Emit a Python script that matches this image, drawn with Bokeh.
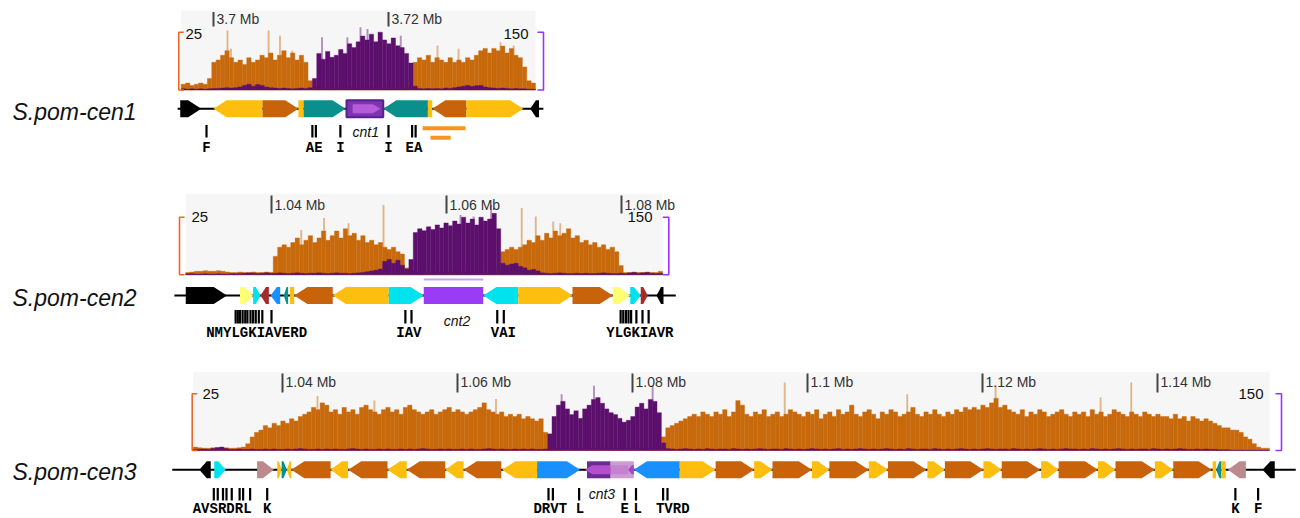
from bokeh.plotting import figure
from bokeh.models import Range1d
from bokeh.embed import file_html
from bokeh.resources import INLINE
from bokeh.core.properties import value

# ======================= DATA =======================
panel_names = ["S.pom-cen1", "S.pom-cen2", "S.pom-cen3"]
bin_kb = 0.5

# ---------------- cen1 ----------------
cen1_view_kb = [3696.3, 3736.8]
cen1_tick_kb = [3700, 3720]
cen1_tick_labels = ["3.7 Mb", "3.72 Mb"]
cen1_bin_start_kb = 3696.3
cen1_orange = [2.5, 3, 2, 2.5, 3, 2.5, 5, 12,
               13, 15, 17, 14, 12, 13, 11, 14, 12, 13, 15, 14, 16, 13, 15, 17, 14, 16, 13, 15, 12,
               4,
               1.5, 1, 1.5, 1, 1, 1.5, 1, 1, 1.5, 1, 1, 1.5, 1, 1, 1.5, 1, 1, 1.5, 1, 1, 1.5, 1, 2,
               12, 14, 13, 15, 12, 14, 13, 12, 14, 12, 13, 12, 14, 13, 15, 17, 18, 16, 18, 17, 19, 16,
               18, 15, 14, 10, 4, 3]
cen1_purple = [3, 2, 3, 2, 3, 2, 3, 4, 4, 5, 6, 5, 6, 8, 12, 15, 10, 14, 12, 8, 6, 5, 4, 5, 4, 3, 4, 5, 4, 6,
               30, 95, 80, 100, 85, 90, 105, 95, 120, 110, 125, 140, 130, 145, 125, 150, 130, 120, 135,
               115, 110, 95, 70, 10,
               4, 3, 4, 3, 4, 3, 5, 4, 6, 8, 10, 12, 9, 11, 12, 8, 6, 5, 4, 5, 4, 3, 4, 3, 3, 2, 2]
cen1_ospike_kb = [3701.6, 3702.0, 3706.3, 3707.6, 3709.0, 3725.6, 3728.0, 3732.8, 3734.3]
cen1_ospike_val = [25.7, 17.8, 25.7, 23.5, 17, 19.2, 17.8, 20.7, 19.2]
cen1_pspike_kb = [3712.4, 3715.3, 3716.8, 3717.6, 3721.4]
cen1_pspike_val = [137, 137, 163, 158, 141]
cen1_line_kb = [3695.9, 3737.7]
cen1_gene_start = [3696.2, 3700.0, 3705.6, 3709.7, 3710.3, 3719.4, 3724.5, 3725.0, 3728.9, 3736.2]
cen1_gene_end = [3698.6, 3705.6, 3709.7, 3710.3, 3715.1, 3724.5, 3725.0, 3728.9, 3735.4, 3737.2]
cen1_gene_strand = [1, -1, 1, 0, 1, -1, 0, -1, 1, -1]
cen1_gene_type = ["black", "gold", "brown", "gold", "teal", "teal", "gold", "brown", "gold", "black"]
cen1_cnt_kb = [3715.2, 3719.4]
cen1_cnt_inner_kb = [3715.9, 3719.1]
cen1_trna_kb = [3699.2, 3711.3, 3711.7, 3714.5, 3720.0, 3722.7, 3723.1]
cen1_trna_labels = ["F", "AE", "I", "I", "EA"]
cen1_trna_label_kb = [3699.2, 3711.5, 3714.5, 3720.0, 3722.9]
cen1_cnt_label = "cnt1"
cen1_cnt_label_kb = 3717.4
cen1_repeat_start = [3723.9, 3724.8]
cen1_repeat_end = [3728.8, 3727.1]

# ---------------- cen2 ----------------
cen2_view_kb = [1030.2, 1084.7]
cen2_tick_kb = [1040, 1060, 1080]
cen2_tick_labels = ["1.04 Mb", "1.06 Mb", "1.08 Mb"]
cen2_bin_start_kb = 1030.2
cen2_orange = [1, 1.2, 1.5, 1.5, 1.8, 1.5, 1.5, 1.8, 1.5, 1.2, 1, 1, 1.2, 1, 1, 1.2, 1, 1, 1.2, 1,
               8,
               12, 13, 12, 14, 16, 13, 15, 17, 14, 16, 19, 15, 17, 19, 16, 20, 17, 18, 15, 17, 14, 15,
               13, 14, 12, 11, 12, 10, 9,
               3, 2,
               1.5, 1, 1.5, 1, 1, 1.5, 1, 1, 1.5, 1, 1, 1.5, 1, 1, 1.5, 1, 1, 1.5, 1,
               3,
               10, 11, 12, 11, 12, 13, 15, 14, 17, 15, 18, 16, 19, 17, 18, 20, 16, 17, 14, 15, 13, 14,
               12, 13, 11, 12, 10,
               4,
               1, 1, 1.2, 1, 1, 1.2, 1, 1, 1.5]
cen2_purple = [3, 3, 2, 2, 3, 2, 2, 3, 2, 2, 3, 3, 3, 4, 5, 4, 3, 4, 5, 4,
               4, 5, 4, 3, 4, 5, 4, 3, 4, 4, 5, 4, 3, 4, 5, 4, 4, 3, 4, 5, 6, 8, 10, 12, 15,
               35, 40, 30, 38, 25, 15, 40,
               110, 120, 115, 125, 118, 130, 122, 135, 128, 140, 132, 150, 135, 145, 130, 150, 140,
               145, 160, 120,
               30, 25, 28, 30, 22, 18, 12, 14, 10,
               5, 4, 3, 4, 5, 4, 3, 3, 4, 3, 4, 3, 3, 4, 5, 4, 3, 3, 4, 3, 5, 6, 4, 5, 6, 4, 3, 4]
cen2_ospike_kb = [1043.4, 1046.0, 1048.8, 1052.8, 1068.6, 1070.2, 1072.2, 1073.0]
cen2_ospike_val = [19.4, 24.6, 22.4, 30.4, 29, 25.3, 23.1, 22.4]
cen2_pspike_kb = [1061.6, 1063.1, 1065.1]
cen2_pspike_val = [156, 152, 182]
cen2_line_kb = [1028.9, 1086.2]
cen2_gene_start = [1030.2, 1036.4, 1037.9, 1038.75, 1039.9, 1041.4, 1042.1, 1042.6, 1047.0, 1053.4,
                   1057.4, 1064.2, 1068.2, 1074.4, 1079.0, 1081.0, 1082.2, 1084.0]
cen2_gene_end = [1034.9, 1037.9, 1038.75, 1039.7, 1041.0, 1041.9, 1042.6, 1047.0, 1053.4, 1057.4,
                 1064.2, 1068.2, 1074.4, 1079.0, 1081.0, 1082.2, 1083.0, 1084.8]
cen2_gene_strand = [1, 1, 1, -1, -1, -1, 0, -1, -1, 1, 0, -1, 1, 1, 1, 1, 1, -1]
cen2_gene_type = ["black", "lightyellow", "cyan", "darkred", "blue", "teal", "gold", "brown", "gold",
                  "cyan", "cnt", "cyan", "gold", "brown", "lightyellow", "cyan", "darkred", "black"]
cen2_trna_kb = [1035.9, 1036.15, 1036.4, 1036.7, 1037.0, 1037.25, 1037.6, 1037.9, 1038.2, 1038.55,
                1038.95, 1040.0, 1055.3, 1056.0, 1065.8, 1066.55, 1079.9, 1080.2, 1080.5, 1080.8,
                1081.1, 1081.7, 1082.4, 1083.1]
cen2_trna_labels = ["NMYLGKIAVERD", "IAV", "VAI", "YLGKIAVR"]
cen2_trna_label_kb = [1038.3, 1055.7, 1066.5, 1082.1]
cen2_cnt_label = "cnt2"
cen2_cnt_label_kb = 1061.2
cen2_cenpa_line_kb = [1057.4, 1064.2]

# ---------------- cen3 ----------------
cen3_view_kb = [1029.8, 1152.8]
cen3_tick_kb = [1040, 1060, 1080, 1100, 1120, 1140]
cen3_tick_labels = ["1.04 Mb", "1.06 Mb", "1.08 Mb", "1.1 Mb", "1.12 Mb", "1.14 Mb"]
cen3_bin_start_kb = 1029.8
cen3_orange = [1.5, 1.2, 1, 1, 1.2, 1, 1, 1.2, 1, 1, 1.2, 1.5,
               3, 6, 8, 9, 11, 10, 12, 11, 13, 12, 14, 13, 15, 16,
               17, 19, 18, 21, 20, 17, 18, 16, 19, 17, 18, 16, 19, 20, 18, 17, 16, 18, 19, 17, 18, 16,
               19, 20, 18, 17, 16, 17, 18, 16, 17, 18, 19, 17, 18, 17, 16, 17, 18, 19, 21, 18, 17, 16,
               17, 15, 16, 15, 16, 14, 15, 14, 13, 14,
               8,
               1, 1.5, 1, 1, 1.5, 1, 1, 1, 1.5, 1, 1, 1, 1.5, 1, 1, 1, 1.5, 1, 1, 1, 1.5, 1, 1, 1, 1.5, 1,
               6, 10, 11, 12, 13, 14, 15, 16, 15,
               17, 16, 15, 17, 16, 18, 15, 17, 22, 20, 16, 15, 17, 16, 18, 15, 16, 17, 15, 16, 18, 17, 16,
               15, 17, 16, 18, 14, 16, 17, 15, 18, 16, 17, 20, 16, 15, 17, 18, 16, 14, 17, 16, 18, 17, 15,
               16, 17, 19, 16, 15, 17, 16, 18, 16, 15, 17, 16, 18, 17, 19, 18,
               19, 18, 20, 19, 21, 23, 19, 20, 18,
               17, 16, 18, 15, 17, 16, 18, 17, 15, 16, 17, 18, 16, 15, 17, 16, 17, 15, 18, 16, 17, 15, 16,
               18, 17, 16, 15, 17, 16, 15, 17, 16, 15, 16, 15,
               15, 14, 16, 14, 15, 13, 15, 14, 13, 14, 13, 12,
               11, 10, 10, 9, 9, 8, 6, 5, 3, 1.5, 1, 1]
cen3_purple = [3, 3, 4, 3, 5, 8, 9, 5, 3, 3, 4, 3,
               3, 4, 3, 3, 4, 3, 4, 3, 3, 4, 3, 4, 5, 4, 3, 3, 4, 3, 4, 3, 4, 3, 3, 4, 5, 4, 3, 4, 3, 3,
               4, 3, 4, 3, 3, 4, 3, 4, 3, 4, 5, 4, 3, 3, 4, 3, 4, 3, 3, 4, 3, 4, 3, 3, 4, 5, 4, 3, 4, 3,
               3, 4, 3, 4, 3, 4, 3, 3, 4,
               44, 90, 120, 130, 110, 95, 105, 85, 110, 120, 135, 140, 125, 110, 100, 95, 85, 75, 80, 90,
               115, 125, 110, 135, 130, 100, 20, 5,
               4, 3, 4, 5, 4, 3, 4, 3, 5, 4, 3, 4, 4, 3, 5, 4, 3, 4, 3, 4, 5, 4, 3, 4, 4, 3, 5, 4, 3, 4,
               3, 4, 5, 4, 3, 4, 3, 4, 5, 3, 4, 3, 4, 5, 4, 3, 4, 3, 4, 5, 4, 3, 4, 3, 5, 4, 3, 4, 4, 3,
               5, 4, 3, 4, 3, 4, 5, 4, 3, 4, 3, 4, 5, 4, 3, 4, 4, 3, 5, 4, 3, 4, 3, 4, 5, 4, 3, 4, 3, 4,
               5, 4, 4, 3, 4, 3, 5, 4, 3, 4, 3, 4, 5, 4, 3, 4, 3, 4, 4, 3, 5, 4, 3, 4, 3, 4, 5, 4, 3, 3,
               4, 3, 4, 3, 3, 2, 2, 2, 1, 1, 1, 1, 1, 1, 1, 1, 1]
cen3_ospike_kb = [1044.0, 1050.5, 1064.4, 1097.4, 1111.4, 1121.5, 1133.5, 1137.0]
cen3_ospike_val = [24, 22, 22.7, 30, 24.8, 28.5, 23.4, 30]
cen3_pspike_kb = [1071.9, 1075.6, 1082.3]
cen3_pspike_val = [149, 171, 171]
cen3_line_kb = [1027.4, 1155.8]
cen3_gene_start = [1030.5, 1032.2, 1037.1, 1039.4, 1039.9, 1040.5, 1041.0, 1045.5, 1047.5, 1052.0,
                   1054.2, 1058.6, 1060.7, 1065.1, 1069.1, 1080.15, 1085.4, 1089.5, 1093.9, 1096.0,
                   1100.5, 1102.5, 1107.0, 1109.2, 1113.7, 1115.7, 1120.1, 1122.2, 1126.7, 1128.7,
                   1133.2, 1135.2, 1139.7, 1141.8, 1146.3, 1146.7, 1147.3, 1148.05, 1152.0]
cen3_gene_end = [1031.8, 1033.5, 1039.0, 1039.9, 1040.5, 1041.0, 1045.5, 1047.5, 1052.0, 1054.2,
                 1058.6, 1060.7, 1065.0, 1069.1, 1074.0, 1085.4, 1089.5, 1093.9, 1096.0, 1100.5,
                 1102.5, 1107.0, 1109.2, 1113.6, 1115.7, 1120.1, 1122.2, 1126.6, 1128.7, 1133.2,
                 1135.2, 1139.7, 1141.8, 1146.2, 1146.7, 1147.3, 1147.8, 1150.1, 1153.4]
cen3_gene_strand = [-1, 1, 1, 1, 1, -1, -1, -1, -1, -1, -1, -1, -1, -1, 1, -1, 1, 1, 1, 1,
                    1, 1, 1, 1, 1, 1, 1, 1, 1, 1, 1, 1, 1, 1, 0, -1, 0, -1, -1]
cen3_gene_type = ["black", "cyan", "mauve", "gold", "teal", "gold", "brown", "gold", "brown", "gold",
                  "brown", "gold", "brown", "gold", "blue", "blue", "gold", "brown", "gold", "brown",
                  "gold", "brown", "gold", "brown", "gold", "brown", "gold", "brown", "gold", "brown",
                  "gold", "brown", "gold", "brown", "gold", "teal", "gold", "mauve", "black"]
cen3_cnt_dark_kb = [1074.8, 1077.5]
cen3_cnt_light_kb = [1077.5, 1080.15]
cen3_cnt_inner_kb = [1074.6, 1077.5]
cen3_cnt_inner2_kb = [1077.5, 1079.5]
cen3_cnt_tip_kb = [1079.5, 1080.15]
cen3_trna_kb = [1032.15, 1032.6, 1033.2, 1033.6, 1034.2, 1035.1, 1035.5, 1036.3, 1038.25, 1070.4,
                1070.9, 1073.9, 1079.1, 1080.4, 1083.5, 1084.0, 1148.9, 1151.5]
cen3_trna_labels = ["AVSRDRL", "K", "DRVT", "L", "E", "L", "TVRD", "K", "F"]
cen3_trna_label_kb = [1033.1, 1038.25, 1070.6, 1074.0, 1079.1, 1080.6, 1084.6, 1148.9, 1151.5]
cen3_cnt_label = "cnt3"
cen3_cnt_label_kb = 1076.5

scale_orange = 25
scale_purple = 150

# ======================= STYLE / LAYOUT =======================
W, H = 1300, 518
X0, Y0 = 0, 0
PX_PER_KB = 8.75
GENE_H = 17
INNER_H = 9
HEAD_KB = 1.5

C_ORANGE = "#c8690c"
C_PURPLE = "#5c0f6c"
C_BOX = "#f6f6f6"
GENE_COLORS = {"black": "#000000", "gold": "#fdbe10", "brown": "#c8620b", "teal": "#0b8f8c",
               "cyan": "#00e3ee", "blue": "#1a90ff", "lightyellow": "#ffff72", "darkred": "#a32b2b",
               "mauve": "#bc8a8c", "cnt": "#9a3cf6"}

LAY = [
    dict(ref_kb=3700, ref_px=213, box_top=10, base=89.5, brk_top=31.7, row=108.3, tr0=124.5, tr1=137,
         let_y=147.5, cnt_y=131.5, name_y=111, tk0=11.5, tk1=26, tky=18.3, lb_x=178.3, rb_x=543,
         n25_x=185, n150_x=528, num_y=33),
    dict(ref_kb=1040, ref_px=271, box_top=193.3, base=274.3, brk_top=216.7, row=295, tr0=309.5, tr1=323,
         let_y=332, cnt_y=320, name_y=297, tk0=195, tk1=213, tky=204, lb_x=179, rb_x=668.3,
         n25_x=191, n150_x=652, num_y=216),
    dict(ref_kb=1040, ref_px=282, box_top=371.7, base=450, brk_top=393.3, row=469.3, tr0=487.5, tr1=500,
         let_y=508.3, cnt_y=493.3, name_y=471.5, tk0=373, tk1=392, tky=381.7, lb_x=191.7, rb_x=1281,
         n25_x=202, n150_x=1263, num_y=393),
]

PANELS = [
    dict(view=cen1_view_kb, ticks=cen1_tick_kb, tick_labels=cen1_tick_labels, bin0=cen1_bin_start_kb,
         orange=cen1_orange, purple=cen1_purple, osk=cen1_ospike_kb, osv=cen1_ospike_val,
         psk=cen1_pspike_kb, psv=cen1_pspike_val, line=cen1_line_kb, gs=cen1_gene_start,
         ge=cen1_gene_end, gst=cen1_gene_strand, gt=cen1_gene_type, trna=cen1_trna_kb,
         tl=cen1_trna_labels, tlk=cen1_trna_label_kb, cl=cen1_cnt_label, clk=cen1_cnt_label_kb),
    dict(view=cen2_view_kb, ticks=cen2_tick_kb, tick_labels=cen2_tick_labels, bin0=cen2_bin_start_kb,
         orange=cen2_orange, purple=cen2_purple, osk=cen2_ospike_kb, osv=cen2_ospike_val,
         psk=cen2_pspike_kb, psv=cen2_pspike_val, line=cen2_line_kb, gs=cen2_gene_start,
         ge=cen2_gene_end, gst=cen2_gene_strand, gt=cen2_gene_type, trna=cen2_trna_kb,
         tl=cen2_trna_labels, tlk=cen2_trna_label_kb, cl=cen2_cnt_label, clk=cen2_cnt_label_kb),
    dict(view=cen3_view_kb, ticks=cen3_tick_kb, tick_labels=cen3_tick_labels, bin0=cen3_bin_start_kb,
         orange=cen3_orange, purple=cen3_purple, osk=cen3_ospike_kb, osv=cen3_ospike_val,
         psk=cen3_pspike_kb, psv=cen3_pspike_val, line=cen3_line_kb, gs=cen3_gene_start,
         ge=cen3_gene_end, gst=cen3_gene_strand, gt=cen3_gene_type, trna=cen3_trna_kb,
         tl=cen3_trna_labels, tlk=cen3_trna_label_kb, cl=cen3_cnt_label, clk=cen3_cnt_label_kb),
]


def kb_range(ref_kb, ref_px):
    start = ref_kb - (ref_px - X0) / PX_PER_KB
    return Range1d(start, start + W / PX_PER_KB)


def cov_range(full, base_px, top_px):
    upp = full / (base_px - top_px)
    return Range1d(-(Y0 + H - base_px) * upp, (base_px - Y0) * upp)


def arrow(s, e, strand, y, h, head):
    hd = min(head, (e - s) * 0.65)
    t, b = y - h / 2, y + h / 2
    if strand == 1:
        return [s, e - hd, e, e - hd, s], [t, t, y, b, b]
    if strand == -1:
        return [e, s + hd, s, s + hd, e], [t, t, y, b, b]
    return [s, e, e, s], [t, t, b, b]


p = figure(width=W, height=H, x_range=Range1d(X0, X0 + W), y_range=Range1d(Y0 + H, Y0),
           output_backend="svg", toolbar_location=None, x_axis_type=None, y_axis_type=None,
           min_border=0, outline_line_color=None)
p.grid.visible = False
p.background_fill_color = "white"
p.border_fill_color = "white"

for k, (lay, pan) in enumerate(zip(LAY, PANELS)):
    xn, on, vn = "x%d" % k, "o%d" % k, "v%d" % k
    p.extra_x_ranges[xn] = kb_range(lay["ref_kb"], lay["ref_px"])
    p.extra_y_ranges[on] = cov_range(scale_orange, lay["base"], lay["brk_top"])
    p.extra_y_ranges[vn] = cov_range(scale_purple, lay["base"], lay["brk_top"])

    # background box
    p.quad(left=[pan["view"][0]], right=[pan["view"][1]], top=[lay["box_top"]], bottom=[lay["base"]],
           fill_color=C_BOX, line_color=None, x_range_name=xn)

    # coverage
    ox = [pan["bin0"] + bin_kb * (i + 0.5) for i in range(len(pan["orange"]))]
    vx = [pan["bin0"] + bin_kb * (i + 0.5) for i in range(len(pan["purple"]))]
    p.vbar(x=pan["osk"], top=pan["osv"], bottom=0, width=0.22, fill_color=C_ORANGE, fill_alpha=0.45,
           line_color=None, x_range_name=xn, y_range_name=on)
    p.vbar(x=ox, top=pan["orange"], bottom=0, width=bin_kb, fill_color=C_ORANGE, line_color=C_ORANGE,
           line_width=0.4, x_range_name=xn, y_range_name=on)
    p.vbar(x=pan["psk"], top=pan["psv"], bottom=0, width=0.22, fill_color="#8a4a9c", fill_alpha=0.6,
           line_color=None, x_range_name=xn, y_range_name=vn)
    p.vbar(x=vx, top=pan["purple"], bottom=0, width=bin_kb, fill_color=C_PURPLE, line_color=C_PURPLE,
           line_width=0.4, x_range_name=xn, y_range_name=vn)

    # scale brackets
    lx, rx = lay["lb_x"], lay["rb_x"]
    p.multi_line(xs=[[lx + 5, lx, lx, lx + 5]], ys=[[scale_orange, scale_orange, 0, 0]],
                 line_color="#f26522", line_width=1.6, y_range_name=on)
    p.multi_line(xs=[[rx - 6, rx, rx, rx - 6]], ys=[[scale_purple, scale_purple, 0, 0]],
                 line_color="#9b30ff", line_width=1.6, y_range_name=vn)
    p.text(x=[lay["n25_x"]], y=[lay["num_y"]], text=[str(scale_orange)], text_align="left",
           text_baseline="middle", text_font=value("Liberation Sans"), text_font_size="15px",
           text_color="#111111")
    p.text(x=[lay["n150_x"]], y=[lay["num_y"]], text=[str(scale_purple)], text_align="right",
           text_baseline="middle", text_font=value("Liberation Sans"), text_font_size="15px",
           text_color="#111111")

    # genomic ticks
    p.segment(x0=pan["ticks"], x1=pan["ticks"], y0=lay["tk0"], y1=lay["tk1"], line_color="#444444",
              line_width=2, x_range_name=xn)
    p.text(x=pan["ticks"], y=lay["tky"], text=pan["tick_labels"], x_offset=3, text_align="left",
           text_baseline="middle", text_font=value("Liberation Sans"), text_font_size="14px",
           text_color="#333333", x_range_name=xn)

    # gene track
    row = lay["row"]
    p.segment(x0=[pan["line"][0]], x1=[pan["line"][1]], y0=row, y1=row, line_color="black",
              line_width=2, x_range_name=xn)
    gxs, gys, gcs = [], [], []
    for s, e, st, t in zip(pan["gs"], pan["ge"], pan["gst"], pan["gt"]):
        xs, ys = arrow(s, e, st, row, GENE_H, HEAD_KB)
        gxs.append(xs)
        gys.append(ys)
        gcs.append(GENE_COLORS[t])
    p.patches(xs=gxs, ys=gys, fill_color=gcs, line_color=None, x_range_name=xn)

    # tRNA ticks and letters
    p.segment(x0=pan["trna"], x1=pan["trna"], y0=lay["tr0"], y1=lay["tr1"], line_color="black",
              line_width=2.2, x_range_name=xn)
    p.text(x=pan["tlk"], y=lay["let_y"], text=pan["tl"], text_align="center", text_baseline="middle",
           text_font=value("Liberation Mono"), text_font_style="bold", text_font_size="14px",
           text_color="black", x_range_name=xn)
    p.text(x=[pan["clk"]], y=[lay["cnt_y"]], text=[pan["cl"]], text_align="center",
           text_baseline="middle", text_font=value("Liberation Sans"), text_font_style="italic",
           text_font_size="14px", text_color="#111111", x_range_name=xn)

    # panel name
    p.text(x=[12], y=[lay["name_y"]], text=[panel_names[k]], text_align="left", text_baseline="middle",
           text_font=value("Liberation Sans"), text_font_style="italic", text_font_size="23px",
           text_color="#111111")

# ---- special features ----
r1 = LAY[0]["row"]
xs, ys = arrow(cen1_cnt_kb[0], cen1_cnt_kb[1], 0, r1, GENE_H, HEAD_KB)
p.patch(x=xs, y=ys, fill_color="#7d34b3", line_color="#5a1f88", line_width=2, x_range_name="x0")
xs, ys = arrow(cen1_cnt_inner_kb[0], cen1_cnt_inner_kb[1], 1, r1, INNER_H, 0.9)
p.patch(x=xs, y=ys, fill_color="#b65bd9", line_color=None, x_range_name="x0")
p.segment(x0=cen1_repeat_start, x1=cen1_repeat_end, y0=[127.7, 137.2], y1=[127.7, 137.2],
          line_color="#f7941d", line_width=4, x_range_name="x0")

p.segment(x0=[cen2_cenpa_line_kb[0]], x1=[cen2_cenpa_line_kb[1]], y0=279, y1=279,
          line_color="#c9a3f2", line_width=2, x_range_name="x1")

r3 = LAY[2]["row"]
for span, col in [(cen3_cnt_dark_kb, "#6c2a93"), (cen3_cnt_light_kb, "#cd9bd1")]:
    xs, ys = arrow(span[0], span[1], 0, r3, GENE_H, HEAD_KB)
    p.patch(x=xs, y=ys, fill_color=col, line_color=None, x_range_name="x2")
xs, ys = arrow(cen3_cnt_inner_kb[0], cen3_cnt_inner_kb[1], -1, r3, INNER_H, 0.8)
p.patch(x=xs, y=ys, fill_color="#b34fcc", line_color=None, x_range_name="x2")
xs, ys = arrow(cen3_cnt_inner2_kb[0], cen3_cnt_inner2_kb[1], 0, r3, INNER_H, 0.8)
p.patch(x=xs, y=ys, fill_color="#c383d0", line_color=None, x_range_name="x2")
xs, ys = arrow(cen3_cnt_tip_kb[0], cen3_cnt_tip_kb[1], -1, r3, INNER_H, 0.8)
p.patch(x=xs, y=ys, fill_color="#a844c8", line_color=None, x_range_name="x2")

open("out.html", "w").write(file_html(p, INLINE))
